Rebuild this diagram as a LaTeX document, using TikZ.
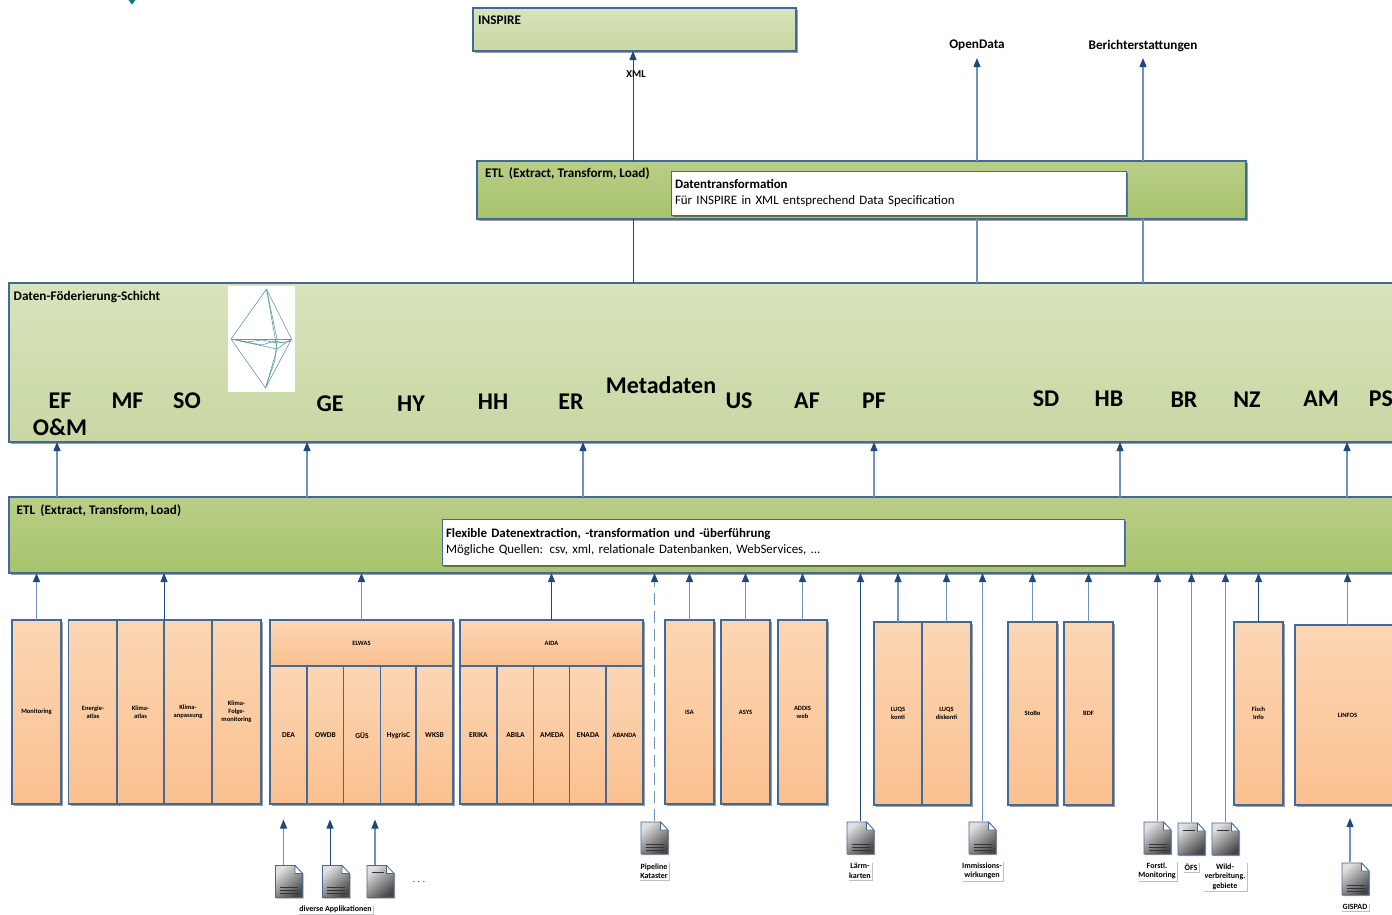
\documentclass[tikz,border=0pt]{standalone}
\usepackage{fontspec}
\setmainfont{Carlito}
\usetikzlibrary{arrows.meta, shadows}
\definecolor{edgeblue}{HTML}{41699A}
\definecolor{flowblue}{HTML}{6F93BC}
\definecolor{tipblue}{HTML}{1F497D}
\definecolor{leaftop}{HTML}{D8E4BC}
\definecolor{leafbot}{HTML}{C8D7A3}
\definecolor{etltop}{HTML}{B8CE86}
\definecolor{etlbot}{HTML}{A8C36C}
\definecolor{apptop}{HTML}{FCD6B4}
\definecolor{appbot}{HTML}{FAC08F}
\definecolor{gemteal}{HTML}{5F9CA6}
\tikzset{
	softshadow/.style={drop shadow={shadow xshift=2pt, shadow yshift=-2pt, fill=black, opacity=0.38}},
	layerbox/.style={draw=edgeblue, line width=1.1pt, top color=leaftop, bottom color=leafbot, softshadow, outer sep=0pt, inner sep=0pt},
	etlbox/.style={draw=edgeblue, line width=1.1pt, top color=etltop, bottom color=etlbot, softshadow, outer sep=0pt, inner sep=0pt},
	notebox/.style={draw=edgeblue, line width=0.9pt, fill=white, softshadow, outer sep=0pt, inner sep=4pt, align=left, font=\fontsize{12.9}{16}\selectfont},
	appbox/.style={draw=edgeblue, line width=1.1pt, top color=apptop, bottom color=appbot, softshadow, outer sep=0pt, inner sep=0pt, align=center, font=\fontsize{6.5}{8}\selectfont\bfseries},
	subbox/.style={appbox, minimum height=138, minimum width=36.5, font=\fontsize{7.5}{9}\selectfont\bfseries},
	headbox/.style={appbox, minimum width=183, minimum height=46},
	tallbox/.style={appbox, minimum width=49, minimum height=184},
	boxtitle/.style={anchor=west, inner sep=0pt, font=\fontsize{13.2}{15}\selectfont\bfseries},
	code/.style={inner sep=0pt, font=\fontsize{24}{26}\selectfont\bfseries},
	outlabel/.style={inner sep=0pt, font=\fontsize{13.2}{15}\selectfont\bfseries},
	doclabel/.style={fill=white, inner sep=1.5pt, align=center, font=\fontsize{8}{9.5}\selectfont\bfseries, drop shadow={shadow xshift=1pt, shadow yshift=-1pt, fill=black, opacity=0.25}},
	flow/.style={draw=flowblue, line width=1.3pt, -{Triangle[length=9pt, width=7pt, color=tipblue]}},
	flowdark/.style={draw=tipblue, line width=0.8pt, -{Triangle[length=9pt, width=7pt, color=tipblue]}},
	docshape/.style={draw=edgeblue, line width=0.9pt, left color=black!12, right color=black!72, shading angle=40, drop shadow={shadow xshift=1.2pt, shadow yshift=-1.2pt, fill=black, opacity=0.35}},
	docfold/.style={draw=edgeblue, line width=0.6pt, fill=white},
	docline/.style={draw=black!80, line width=0.7pt},
	docbars/.pic={
		\path[docshape] (-13.5,-16) -- (6,-16) -- (13.5,-8) -- (13.5,16) -- (-13.5,16) -- cycle;
		\path[docfold] (6,-16) -- (6,-8) -- (13.5,-8) -- cycle;
		\draw[docline] (-9,6) -- (9,6);
		\draw[docline] (-9,9) -- (9,9);
		\draw[docline] (-9,12) -- (9,12);
		\coordinate (-top) at (0,-17);
	},
	docdash/.pic={
		\path[docshape] (-13.5,-16) -- (6,-16) -- (13.5,-8) -- (13.5,16) -- (-13.5,16) -- cycle;
		\path[docfold] (6,-16) -- (6,-8) -- (13.5,-8) -- cycle;
		\draw[docline] (-9,-9) -- (3,-9);
		\coordinate (-top) at (0,-17);
	},
}
\begin{document}
\begin{tikzpicture}[x=1pt, y=-1pt]
	\useasboundingbox (0,0) rectangle (1392,914);
	\clip (0,0) rectangle (1392,914);
	\fill[white] (0,0) rectangle (1392,914);
	\fill[teal] (128.5,0) -- (135.5,0) -- (132,4.5) -- cycle;

	% upper part
	\node[layerbox, minimum width=323, minimum height=43] (inspire) at (634.5,29.5) {};
	\node[boxtitle] (inspiretitle) at (478,20.5) {INSPIRE};
	\node[outlabel] (opendata) at (977,45.5) {OpenData};
	\node[outlabel] (reports) at (1143,45.5) {Berichterstattungen};
	\node[etlbox, minimum width=769, minimum height=58] (etlupper) at (861.5,190) {};
	\node[boxtitle] (etluppertitle) at (485,174) {ETL\, (Extract, Transform, Load)};
	\node[notebox, text width=447, minimum height=44] (transform) at (898.5,193) {\textbf{Datentransformation}\\Für INSPIRE in XML entsprechend Data Specification};

	% federation layer
	\node[layerbox, minimum width=1411, minimum height=159] (federation) at (714.5,362.5) {};
	\node[boxtitle] (federationtitle) at (13.5,296.5) {Daten-Föderierung-Schicht};
	\node[fill=white, minimum width=67, minimum height=106, inner sep=0pt] (gem) at (261.5,339) {};
	\begin{scope}[draw=gemteal, line width=0.6pt, line join=round]
		\coordinate (gemtop) at (266.5,289);
		\coordinate (gemleft) at (231,339);
		\coordinate (gemright) at (291.5,339);
		\coordinate (gembot) at (265.5,388);
		\coordinate (gemin) at (277,349);
		\draw (gemtop) -- (gemleft) -- (gembot) -- (gemright) -- cycle;
		\draw (gemleft) -- (gemright);
		\draw (gemleft) -- (gemin) -- (gemright);
		\draw (gemtop) -- (gemin) -- (gembot);
		\draw (gemleft) -- (247,342) -- (262,340) -- (277,343) -- (291.5,341);
		\draw (240,341) -- (262,345) -- (275,341) -- (285,343);
		\draw (gemtop) -- (277,339) -- (275,360) -- (gembot);
	\end{scope}
	\node[code] (ef) at (60,401) {EF};
	\node[code] (mf) at (127.5,401) {MF};
	\node[code] (so) at (187,401) {SO};
	\node[code] (om) at (60,427) {O\&M};
	\node[code] (ge) at (330,404) {GE};
	\node[code] (hy) at (411,404) {HY};
	\node[code] (hh) at (493,402) {HH};
	\node[code] (er) at (571,402) {ER};
	\node[code] (meta) at (661,385) {Metadaten};
	\node[code] (us) at (739,401) {US};
	\node[code] (af) at (807,401) {AF};
	\node[code] (pf) at (874,401) {PF};
	\node[code] (sd) at (1046,399) {SD};
	\node[code] (hb) at (1109,399) {HB};
	\node[code] (br) at (1184,400) {BR};
	\node[code] (nz) at (1247,400) {NZ};
	\node[code] (am) at (1321,399) {AM};
	\node[code] (ps) at (1381,399) {PS};

	% lower ETL
	\node[etlbox, minimum width=1411, minimum height=76] (etllower) at (714.5,535) {};
	\node[boxtitle] (etllowertitle) at (16.5,510.5) {ETL\, (Extract, Transform, Load)};
	\node[notebox, text width=674, minimum height=46] (extract) at (783,542) {\textbf{Flexible Datenextraction, -transformation und -überführung}\\Mögliche Quellen: csv, xml, relationale Datenbanken, WebServices, ...};

	% applications
	\node[tallbox] (monitoring) at (36.5,712) {Monitoring};
	\node[tallbox] (energie) at (93,712) {Energie-\\atlas};
	\node[tallbox, minimum width=47] (klimaatlas) at (140.5,712) {Klima-\\atlas};
	\node[tallbox, minimum width=48] (klimaanp) at (188,712) {Klima-\\anpassung};
	\node[tallbox] (klimafolge) at (236.5,712) {Klima-\\Folge-\\monitoring};

	\node[headbox] (elwas) at (361.5,643) {ELWAS};
	\node[subbox, minimum width=37] (dea) at (288.5,735) {DEA};
	\node[subbox, minimum width=37] (owdb) at (325.5,735) {OWDB};
	\node[subbox] (gues) at (362,735) {GÜS};
	\node[subbox] (hygris) at (398.5,735) {HygrisC};
	\node[subbox, minimum width=37] (wksb) at (434.5,735) {WKSB};

	\node[headbox] (aida) at (551.5,643) {AIDA};
	\node[subbox, minimum width=37] (erika) at (478.5,735) {ERIKA};
	\node[subbox, minimum width=37] (abila) at (515.5,735) {ABILA};
	\node[subbox] (ameda) at (552,735) {AMEDA};
	\node[subbox] (enada) at (588,735) {ENADA};
	\node[subbox, minimum width=37, font=\fontsize{6.5}{8}\selectfont\bfseries] (abanda) at (624.5,735) {ABANDA};

	\node[tallbox] (isa) at (689.5,712) {ISA};
	\node[tallbox] (asys) at (745.5,712) {ASYS};
	\node[tallbox] (addis) at (802.5,712) {ADDIS\\web};
	\node[tallbox, minimum width=48, minimum height=183] (luqsk) at (898,713.5) {LUQS\\konti};
	\node[tallbox, minimum height=183] (luqsd) at (946.5,713.5) {LUQS\\diskonti};
	\node[tallbox, minimum height=183] (stobo) at (1032.5,713.5) {StoBo};
	\node[tallbox, minimum height=183] (bdf) at (1088.5,713.5) {BDF};
	\node[tallbox, minimum height=183] (fisch) at (1258.5,713.5) {Fisch\\Info};
	\node[appbox, minimum width=105, minimum height=180] (linfos) at (1347.5,715) {LINFOS};

	% documents
	\pic (appa) at (289,881.5) {docbars};
	\pic (appb) at (336,881.5) {docbars};
	\pic (appc) at (380.5,881.5) {docdash};
	\pic (pipeline) at (654.5,838) {docbars};
	\pic (laerm) at (860.5,838) {docbars};
	\pic (immission) at (982.5,838) {docbars};
	\pic (forstl) at (1157.5,838) {docbars};
	\pic (oefs) at (1191.5,839) {docdash};
	\pic (wild) at (1225.5,839) {docdash};
	\pic (gispad) at (1355.5,879) {docbars};

	\node[doclabel] (applabel) at (335.5,909.5) {diverse Applikationen};
	\node[font=\fontsize{9}{11}\selectfont, inner sep=0pt] (appdots) at (419,882) {. . .};
	\node[doclabel] (pipelinelabel) at (654,871) {Pipeline\\Kataster};
	\node[doclabel] (laermlabel) at (860,871) {Lärm-\\karten};
	\node[doclabel] (immissionlabel) at (982,871) {Immissions-\\wirkungen};
	\node[doclabel] (forstllabel) at (1157,871) {Forstl.\\Monitoring};
	\node[doclabel] (oefslabel) at (1191,867) {ÖFS};
	\node[doclabel] (wildlabel) at (1225,876.5) {Wild-\\verbreitung.\\gebiete};
	\node[doclabel] (gispadlabel) at (1355,907) {GISPAD};

	% connectors, upper part
	\coordinate (xmlline) at (633,0);
	\coordinate (openline) at (opendata.south);
	\coordinate (reportline) at (reports.south);
	\draw[flowdark, -] (federation.north -| xmlline) -- (etlupper.south -| xmlline);
	\draw[flowdark] (etlupper.north -| xmlline) -- (inspire.south -| xmlline);
	\node[font=\fontsize{10.5}{12}\selectfont\bfseries, inner sep=0pt] (xml) at (636,74.5) {XML};
	\draw[flow, -] (federation.north -| openline) -- (etlupper.south -| openline);
	\draw[flow] (etlupper.north -| openline) -- ([yshift=-1pt]0,57 -| openline);
	\draw[flow, -] (federation.north -| reportline) -- (etlupper.south -| reportline);
	\draw[flow] (etlupper.north -| reportline) -- ([yshift=-1pt]0,57 -| reportline);

	% connectors, ETL to federation
	\foreach \x in {57,307,583,874,1120,1347} {
		\coordinate (tap) at (\x,0);
		\draw[flow] (etllower.north -| tap) -- (federation.south -| tap);
	}

	% connectors, applications to ETL
	\draw[flow] (monitoring.north) -- (etllower.south -| monitoring.north);
	\draw[flowdark] (klimaatlas.north east) -- (etllower.south -| klimaatlas.north east);
	\draw[flow] (elwas.north) -- (etllower.south -| elwas.north);
	\draw[flowdark] (aida.north) -- (etllower.south -| aida.north);
	\draw[flow, dash pattern=on 12pt off 6pt] (pipeline-top) -- (etllower.south -| pipeline-top);
	\draw[flow] (isa.north) -- (etllower.south -| isa.north);
	\draw[flow] (asys.north) -- (etllower.south -| asys.north);
	\draw[flow] (addis.north) -- (etllower.south -| addis.north);
	\draw[flowdark] (laerm-top) -- (etllower.south -| laerm-top);
	\draw[flow] (luqsk.north) -- (etllower.south -| luqsk.north);
	\draw[flow] (luqsd.north) -- (etllower.south -| luqsd.north);
	\draw[flow] (immission-top) -- (etllower.south -| immission-top);
	\draw[flow] (stobo.north) -- (etllower.south -| stobo.north);
	\draw[flow] (bdf.north) -- (etllower.south -| bdf.north);
	\draw[flow] (forstl-top) -- (etllower.south -| forstl-top);
	\draw[flow] (oefs-top) -- (etllower.south -| oefs-top);
	\draw[flow] (wild-top) -- (etllower.south -| wild-top);
	\draw[flowdark] (fisch.north) -- (etllower.south -| fisch.north);
	\draw[flow] (linfos.north) -- (etllower.south -| linfos.north);

	% connectors, loose documents
	\draw[flow] ([xshift=-5.5pt]appa-top) -- ++(0,-45);
	\draw[flowdark] ([xshift=-6pt]appb-top) -- ++(0,-45);
	\draw[flow] ([xshift=-5.5pt]appc-top) -- ++(0,-45);
	\draw[flow] ([xshift=-5.5pt]gispad-top) -- ++(0,-44);
\end{tikzpicture}
\end{document}
